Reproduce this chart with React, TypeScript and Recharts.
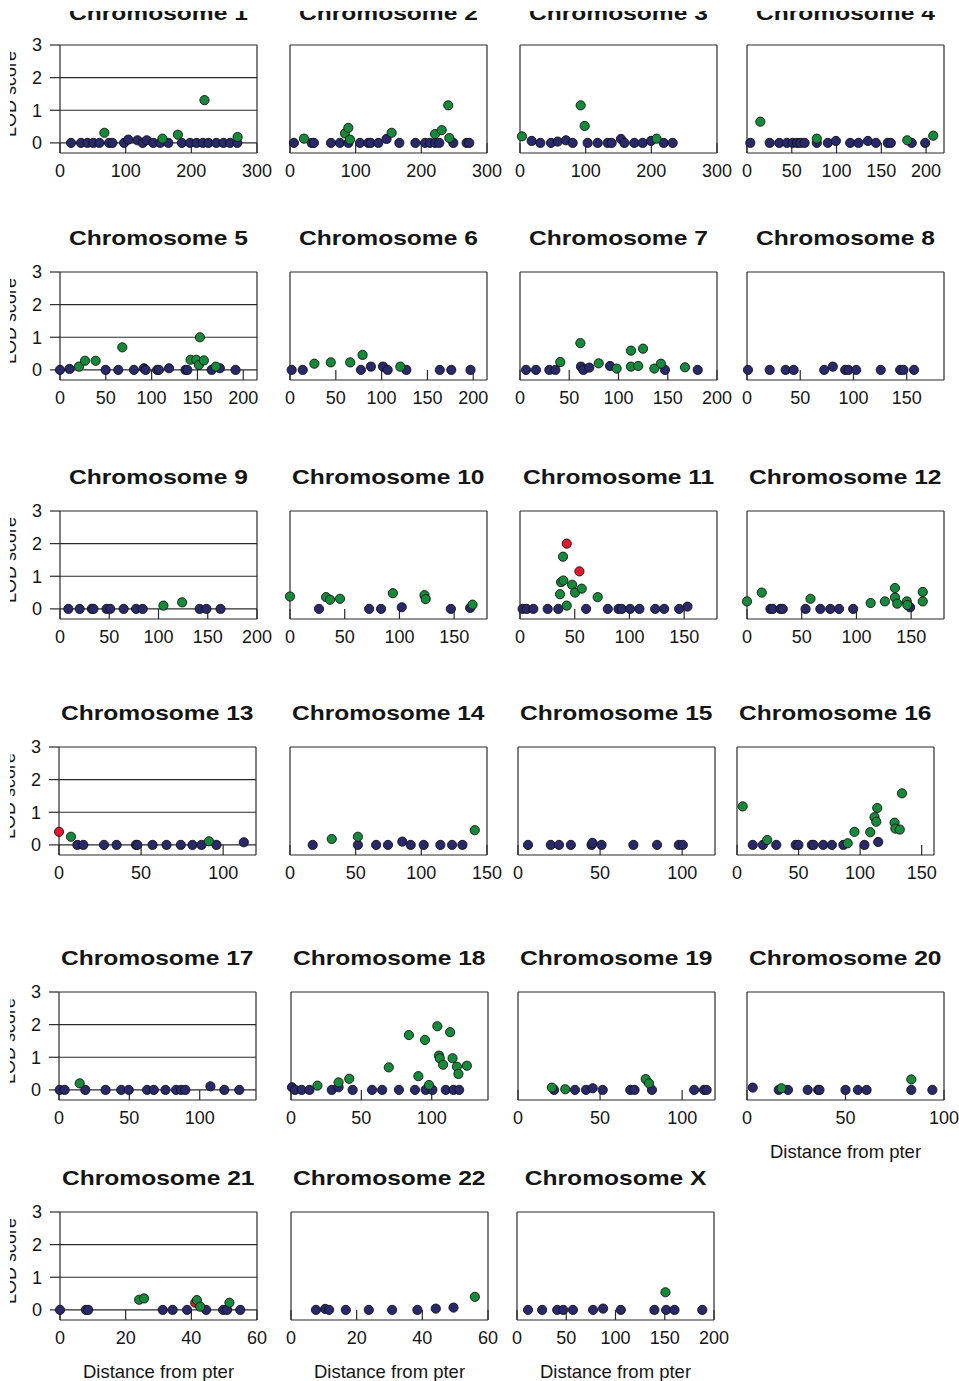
import React from 'react';
import { ScatterChart, Scatter, XAxis, YAxis, CartesianGrid, ReferenceLine } from 'recharts';

type Pt = [number, number];

// [distance from pter, LOD score]
const chr1Navy: Pt[] = [[16.8, 0], [32, 0], [41.7, 0], [50.8, 0], [60, 0], [74.7, 0], [79.8, 0], [97.6, 0], [104, 0.1], [118, 0.08], [126, 0], [132, 0.08], [142, 0], [152.5, 0], [165, 0], [185.6, 0], [198, 0], [208, 0], [217.6, 0], [226, 0], [238, 0], [249, 0], [259, 0], [270, 0]];
const chr1Green: Pt[] = [[67.6, 0.31], [156, 0.13], [179.5, 0.25], [220, 1.31], [270.5, 0.18]];

const chr2Navy: Pt[] = [[6, 0], [33, 0], [36.5, 0], [62.4, 0], [76, 0], [89, 0], [106.6, 0], [119, 0], [123, 0], [134.5, 0], [147, 0.12], [166.5, 0], [191, 0], [205.6, 0], [213, 0], [221, 0], [227.4, 0], [248.7, 0], [269, 0], [273, 0]];
const chr2Green: Pt[] = [[21.3, 0.13], [83.8, 0.29], [88.8, 0.46], [91.4, 0.1], [154.8, 0.31], [220.8, 0.27], [231, 0.39], [241, 1.15], [242.6, 0.15]];

const chr3Navy: Pt[] = [[17.8, 0.06], [31, 0], [47.2, 0], [57.4, 0.04], [70, 0.08], [80.2, 0], [103, 0], [118.3, 0], [133.5, 0], [139.6, 0], [153.8, 0.12], [159, 0], [174, 0], [186.8, 0], [199.5, 0.06], [218.8, 0], [232.5, 0]];
const chr3Green: Pt[] = [[3, 0.2], [92.4, 1.15], [98.5, 0.52], [208, 0.13]];

const chr4Navy: Pt[] = [[3.7, 0], [25.3, 0], [36, 0], [44.6, 0], [51, 0], [55.8, 0], [59.5, 0], [64.3, 0], [78, 0], [90.3, 0], [99.3, 0.06], [115.2, 0], [124.5, 0], [135, 0.06], [144, 0], [157.2, 0], [160.6, 0], [184, 0], [199, 0]];
const chr4Green: Pt[] = [[14.9, 0.65], [78, 0.13], [179, 0.08], [208, 0.22]];

const chr5Navy: Pt[] = [[0, 0], [10.5, 0.03], [49.8, 0], [63.6, 0], [80.7, 0], [91.6, 0.05], [93.5, 0], [106, 0], [108, 0], [119, 0.05], [137, 0], [139, 0], [165.5, 0], [174.5, 0.05], [191.6, 0]];
const chr5Green: Pt[] = [[20.7, 0.1], [27.3, 0.28], [38.9, 0.28], [68, 0.69], [142.5, 0.31], [148.7, 0.31], [151.6, 0.15], [152.7, 1.0], [157, 0.29], [170, 0.1]];

const chr6Navy: Pt[] = [[1.8, 0], [13.9, 0], [77.4, 0], [88.3, 0.1], [101.5, 0.1], [106.6, 0], [127, 0], [163.5, 0], [176, 0], [197, 0]];
const chr6Green: Pt[] = [[26.6, 0.19], [44.5, 0.23], [65.7, 0.23], [79.2, 0.46], [120.4, 0.1]];

const chr7Navy: Pt[] = [[6.1, 0], [16.2, 0], [29.8, 0], [35.9, 0], [61.9, 0.1], [64.3, 0], [70.4, 0.07], [91.4, 0.12], [147.2, 0], [180.4, 0]];
const chr7Green: Pt[] = [[40.9, 0.24], [61.3, 0.82], [79.9, 0.2], [98.1, 0.04], [112.7, 0.59], [112.7, 0.1], [120, 0.12], [124.9, 0.65], [136.4, 0.04], [143.1, 0.19], [167.5, 0.08]];

const chr8Navy: Pt[] = [[0.9, 0], [21.3, 0], [36.3, 0], [43.8, 0], [72.5, 0], [80.6, 0.1], [92.2, 0], [95.3, 0], [102.5, 0], [125.6, 0], [143.8, 0], [146.9, 0], [156.9, 0]];

const chr9Navy: Pt[] = [[8.5, 0], [20, 0], [32.3, 0], [34, 0], [47.3, 0], [51, 0], [64.6, 0], [77.2, 0], [84, 0], [141.8, 0], [148.6, 0], [163, 0]];
const chr9Green: Pt[] = [[105, 0.1], [124, 0.2]];

const chr10Navy: Pt[] = [[26.5, 0], [72.3, 0], [83.2, 0], [102.1, 0.05], [147, 0], [164.6, 0.03]];
const chr10Green: Pt[] = [[0, 0.38], [33, 0.36], [36.6, 0.28], [45.7, 0.31], [94, 0.48], [122.9, 0.42], [124, 0.3], [166.8, 0.13]];

const chr11Navy: Pt[] = [[2.4, 0], [6.1, 0], [12.2, 0], [25.3, 0], [35, 0], [60.4, 0], [80.2, 0], [90, 0], [93, 0], [100.6, 0], [109.1, 0], [123.5, 0], [131.7, 0], [145.4, 0], [153, 0.07]];
const chr11Green: Pt[] = [[37.5, 0.82], [39.6, 0.87], [36.6, 0.45], [42.7, 0.1], [39.3, 1.6], [47.6, 0.74], [50.3, 0.5], [56.4, 0.62], [71, 0.36]];
const chr11Red: Pt[] = [[42.7, 2.0], [54.3, 1.15]];

const chr12Navy: Pt[] = [[21.4, 0], [23.5, 0], [30.6, 0], [32.7, 0], [53.5, 0], [67, 0], [76.1, 0], [84.1, 0], [97, 0], [149, 0.05]];
const chr12Green: Pt[] = [[0, 0.23], [13.5, 0.5], [58, 0.31], [113, 0.18], [126, 0.23], [135.2, 0.64], [135.2, 0.35], [137.3, 0.16], [146, 0.23], [146.5, 0.12], [160.6, 0.52], [160.6, 0.23]];

const chr13Navy: Pt[] = [[11.2, 0], [14.8, 0], [27.4, 0], [35.1, 0], [46.9, 0], [47.7, 0], [57, 0], [65.5, 0], [74.2, 0], [81.3, 0], [86.8, 0], [95.9, 0], [112.6, 0.08]];
const chr13Green: Pt[] = [[7.3, 0.25], [91.3, 0.11]];
const chr13Red: Pt[] = [[0, 0.4]];

const chr14Navy: Pt[] = [[17.3, 0], [51.7, 0], [65.6, 0], [74.6, 0], [85.5, 0.1], [91.9, 0], [101.8, 0], [114.5, 0], [123.4, 0], [131.3, 0]];
const chr14Green: Pt[] = [[31.8, 0.18], [51.7, 0.25], [140.7, 0.45]];

const chr15Navy: Pt[] = [[6.1, 0], [20, 0], [25, 0], [32.2, 0], [44.8, 0], [45.4, 0.06], [50.9, 0], [70.3, 0], [84.7, 0], [98, 0], [100.4, 0]];

const chr16Navy: Pt[] = [[12.8, 0], [21, 0], [31.9, 0], [47.7, 0], [49.9, 0], [60.8, 0], [62.1, 0], [70, 0], [77.1, 0], [86.4, 0], [103.5, 0], [114.7, 0.09]];
const chr16Green: Pt[] = [[4.6, 1.18], [24.5, 0.15], [89.9, 0.05], [95.4, 0.4], [108.2, 0.39], [111.7, 0.85], [113.1, 0.71], [113.9, 1.13], [128, 0.68], [128.6, 0.5], [132.2, 0.47], [134, 1.58]];

const chr17Navy: Pt[] = [[0.5, 0], [4, 0], [18.7, 0], [33.1, 0], [44.2, 0], [49.6, 0], [62.6, 0], [67.4, 0], [75.7, 0], [83.2, 0], [86.8, 0], [89.8, 0], [107.6, 0.11], [117.5, 0], [128.1, 0]];
const chr17Green: Pt[] = [[14.7, 0.2]];

const chr18Navy: Pt[] = [[0.7, 0.08], [2.9, 0], [7.6, 0], [13.1, 0], [29, 0], [33.8, 0.08], [43.8, 0], [57.6, 0], [64.8, 0], [76.7, 0], [88.1, 0], [95.7, 0], [100.5, 0], [110, 0], [115.5, 0], [119.5, 0]];
const chr18Green: Pt[] = [[18.8, 0.13], [33.8, 0.23], [41.4, 0.34], [69.5, 0.69], [83.8, 1.68], [90.5, 0.42], [95.2, 1.53], [98.1, 0.15], [104, 1.95], [105.2, 1.05], [105.7, 0.97], [108.1, 0.77], [113.1, 1.77], [114.8, 0.97], [117.9, 0.71], [119, 0.49], [125, 0.74]];

const chr19Navy: Pt[] = [[22, 0], [34.7, 0], [41.4, 0], [45.5, 0.05], [51.6, 0], [68.4, 0], [71, 0], [81.6, 0], [107.3, 0], [113.3, 0], [114.9, 0]];
const chr19Green: Pt[] = [[20.6, 0.07], [28.8, 0.02], [77.8, 0.33], [79.8, 0.2]];

const chr20Navy: Pt[] = [[2.9, 0.07], [16.1, 0], [20.8, 0], [30.8, 0], [36.1, 0], [36.8, 0], [50, 0], [56.3, 0], [60.7, 0], [83.4, 0], [94.1, 0]];
const chr20Green: Pt[] = [[17.5, 0.05], [83.4, 0.32]];

const chr21Navy: Pt[] = [[0, 0], [7.9, 0], [8.6, 0], [31.3, 0], [34.3, 0], [38.7, 0], [44.5, 0], [49.7, 0], [50.9, 0], [54.9, 0]];
const chr21Green: Pt[] = [[24.1, 0.31], [25.6, 0.35], [41.7, 0.3], [42.7, 0.1], [51.6, 0.22]];
const chr21Red: Pt[] = [[41.2, 0.22]];

const chr22Navy: Pt[] = [[7.6, 0], [10.4, 0.03], [11.6, 0], [16.7, 0], [23.7, 0], [30.8, 0], [38.5, 0], [44.1, 0.04], [49.5, 0.07]];
const chr22Green: Pt[] = [[56, 0.4]];

const chrXNavy: Pt[] = [[11.2, 0], [25.5, 0], [40.8, 0], [46.9, 0], [56.8, 0], [77.2, 0], [87.4, 0.04], [105.4, 0], [139.5, 0], [151.4, 0], [159.9, 0], [188.1, 0]];
const chrXGreen: Pt[] = [[150.7, 0.54]];

// axis ticks
const ticks300 = [0, 100, 200, 300];
const ticks200 = [0, 50, 100, 150, 200];
const ticks150 = [0, 50, 100, 150];
const ticks100 = [0, 50, 100];
const ticks60 = [0, 20, 40, 60];
const lodTicks = [0, 1, 2, 3];

const names = ['1', '2', '3', '4', '5', '6', '7', '8', '9', '10', '11', '12', '13', '14', '15', '16', '17', '18', '19', '20', '21', '22', 'X'];
const xMaxes = [300, 300, 300, 220, 215, 215, 200, 185, 200, 180, 180, 180, 120, 150, 120, 160, 140, 140, 120, 100, 60, 60, 200];
const xTicks = [ticks300, ticks300, ticks300, ticks200, ticks200, ticks200, ticks200, ticks150, ticks200, ticks150, ticks150, ticks150, ticks100, ticks150, ticks100, ticks150, ticks100, ticks100, ticks100, ticks100, ticks60, ticks60, ticks200];
const navySets = [chr1Navy, chr2Navy, chr3Navy, chr4Navy, chr5Navy, chr6Navy, chr7Navy, chr8Navy, chr9Navy, chr10Navy, chr11Navy, chr12Navy, chr13Navy, chr14Navy, chr15Navy, chr16Navy, chr17Navy, chr18Navy, chr19Navy, chr20Navy, chr21Navy, chr22Navy, chrXNavy];
const greenSets = [chr1Green, chr2Green, chr3Green, chr4Green, chr5Green, chr6Green, chr7Green, [], chr9Green, chr10Green, chr11Green, chr12Green, chr13Green, chr14Green, [], chr16Green, chr17Green, chr18Green, chr19Green, chr20Green, chr21Green, chr22Green, chrXGreen];
const redSets: Pt[][] = names.map(() => []);
redSets[10] = chr11Red;
redSets[12] = chr13Red;
redSets[20] = chr21Red;
const withDistanceLabel = ['20', '21', '22', 'X'];

// layout (page pixels)
const ROW_TOPS = [45, 272, 511, 747, 992, 1212];
const COL_LEFTS = [
  [60, 290, 520, 747],
  [60, 290, 520, 747],
  [60, 290, 520, 747],
  [59, 290, 518, 737],
  [59, 291, 518, 747],
  [60, 291, 517],
];
const PLOT_W = 197;
const PLOT_H = 108;
const Y_MIN = -0.31;
const AXIS_W = 60;
const TOP = 10;
// the scan is cropped: everything above / left of this edge is blank
const CROP_X = 10;
const CROP_Y = 11;

const FONT = '"Liberation Sans", Arial, Helvetica, sans-serif';
const INK = '#151515';
const LINE = '#2a2a2a';
const NAVY = '#29286b';
const GREEN = '#168a3b';
const RED = '#e3172d';

const dot = (fill: string) => (props: any) => (
  <circle cx={props.cx} cy={props.cy} r={4.6} fill={fill} stroke="#121212" strokeWidth={0.9} />
);

const toRows = (pts: Pt[]) => pts.map(([x, y]) => ({ x, y }));

function Panel({ idx }: { idx: number }) {
  const row = Math.floor(idx / 4);
  const col = idx % 4;
  const left = COL_LEFTS[row][col];
  const top = ROW_TOPS[row];
  const xMax = xMaxes[idx];
  const ticks = xTicks[idx];
  const first = col === 0;
  const showDist = withDistanceLabel.includes(names[idx]);
  const titleBase = row === 0 ? 25.5 : 27.5;

  return (
    <div style={{ position: 'absolute', left: left - AXIS_W, top: top - TOP }}>
      <div
        style={{
          position: 'absolute',
          left: AXIS_W,
          width: PLOT_W,
          top: TOP - titleBase - 17.8,
          lineHeight: '21px',
          fontSize: 21,
          fontWeight: 'bold',
          fontFamily: FONT,
          color: INK,
          textAlign: 'center',
          whiteSpace: 'nowrap',
        }}
      >
        <span style={{ display: 'inline-block', transform: 'scaleX(1.17)' }}>Chromosome {names[idx]}</span>
      </div>
      <ScatterChart
        width={AXIS_W + PLOT_W + 30}
        height={TOP + PLOT_H + 70}
        margin={{ top: TOP, right: 30, bottom: 0, left: 0 }}
      >
        <CartesianGrid vertical={false} stroke={LINE} strokeWidth={1.2} />
        <XAxis
          type="number"
          dataKey="x"
          domain={[0, xMax]}
          ticks={ticks}
          interval={0}
          axisLine={false}
          tickLine={false}
          tickSize={0}
          tickMargin={11}
          height={70}
          tick={{ fontSize: 18, fill: INK, fontFamily: FONT }}
          label={
            showDist
              ? () => (
                  <text
                    x={AXIS_W + PLOT_W / 2}
                    y={TOP + PLOT_H + 58}
                    textAnchor="middle"
                    fontSize={18.5}
                    fill={INK}
                    fontFamily={FONT}
                  >
                    Distance from pter
                  </text>
                )
              : undefined
          }
        />
        <YAxis
          type="number"
          dataKey="y"
          domain={[Y_MIN, 3]}
          ticks={lodTicks}
          interval={0}
          width={AXIS_W}
          axisLine={{ stroke: LINE, strokeWidth: 1.2 }}
          tickLine={{ stroke: LINE, strokeWidth: 1.2 }}
          tickSize={10}
          tickMargin={8}
          tick={first ? { fontSize: 18, fill: INK, fontFamily: FONT } : false}
          label={
            first
              ? () => (
                  <text
                    x={15.5}
                    y={TOP + 49}
                    transform={`rotate(-90 15.5 ${TOP + 49})`}
                    textAnchor="middle"
                    fontSize={18}
                    fill={INK}
                    fontFamily={FONT}
                  >
                    LOD score
                  </text>
                )
              : undefined
          }
        />
        <ReferenceLine x={xMax} stroke={LINE} strokeWidth={1.2} />
        {ticks.map((t) => (
          <ReferenceLine
            key={t}
            segment={[{ x: t, y: Y_MIN }, { x: t, y: 0 }]}
            stroke={LINE}
            strokeWidth={1.2}
          />
        ))}
        <Scatter data={toRows(navySets[idx])} shape={dot(NAVY)} isAnimationActive={false} />
        {redSets[idx].length > 0 && (
          <Scatter data={toRows(redSets[idx])} shape={dot(RED)} isAnimationActive={false} />
        )}
        {greenSets[idx].length > 0 && (
          <Scatter data={toRows(greenSets[idx] as Pt[])} shape={dot(GREEN)} isAnimationActive={false} />
        )}
      </ScatterChart>
    </div>
  );
}

export default function App() {
  return (
    <div style={{ position: 'absolute', left: 0, top: 0, width: 959, height: 1381, background: '#fff' }}>
      <div
        style={{
          position: 'absolute',
          left: CROP_X,
          top: CROP_Y,
          width: 959 - CROP_X,
          height: 1381 - CROP_Y,
          overflow: 'hidden',
        }}
      >
        <div style={{ position: 'absolute', left: -CROP_X, top: -CROP_Y, width: 959, height: 1381 }}>
          {names.map((n, i) => (
            <Panel key={n} idx={i} />
          ))}
        </div>
      </div>
    </div>
  );
}
